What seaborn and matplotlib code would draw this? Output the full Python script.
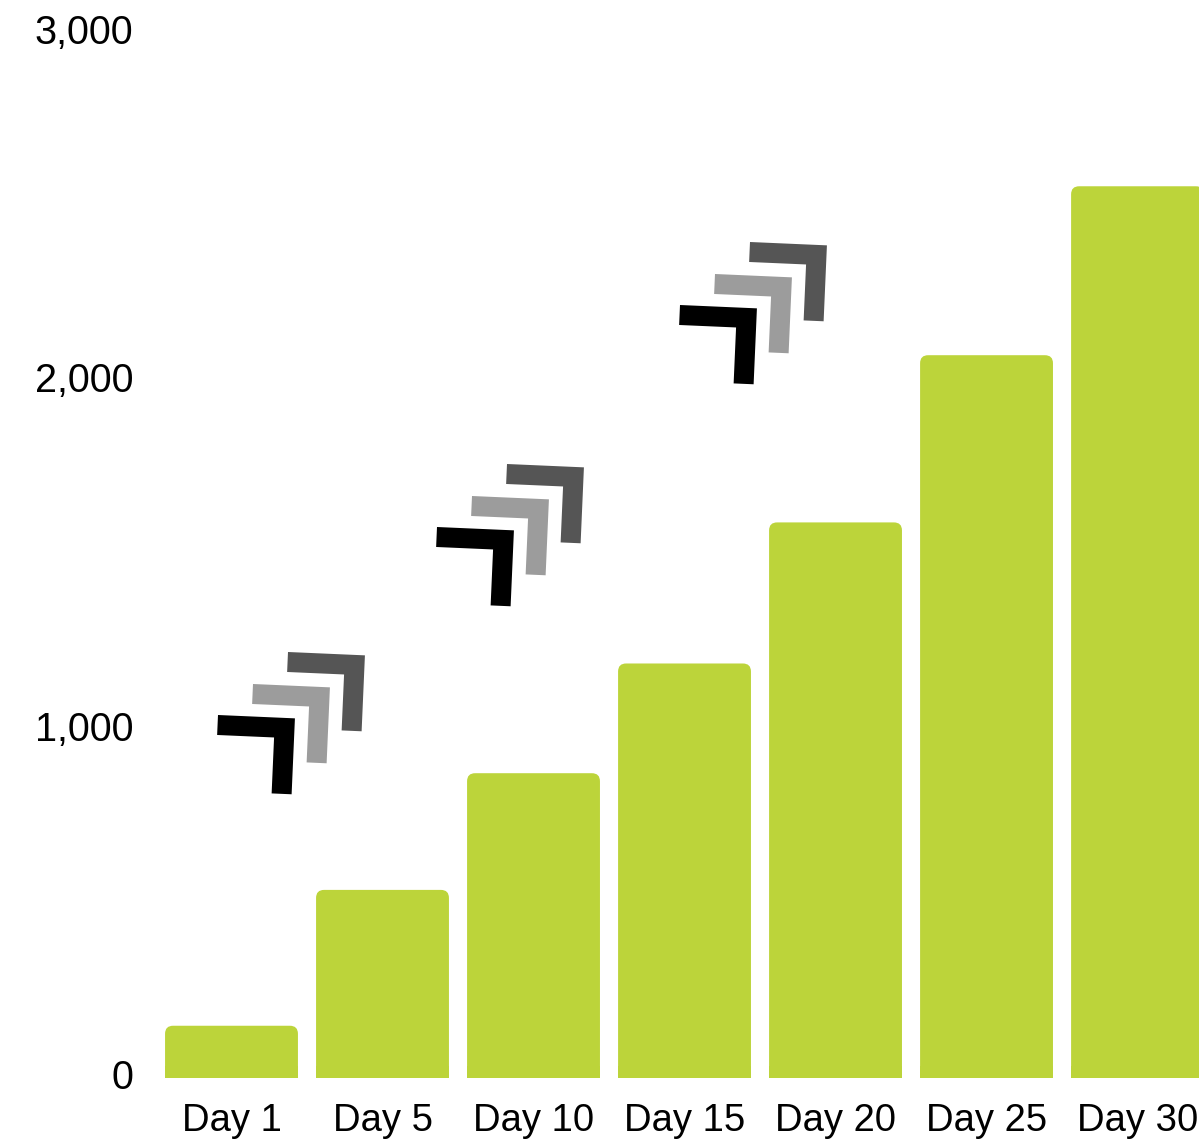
import numpy as np
import pandas as pd
import seaborn as sns
import matplotlib
matplotlib.use("Agg")
import matplotlib.pyplot as plt
import matplotlib.transforms as mtransforms
from matplotlib.patches import FancyBboxPatch, Rectangle, Polygon
from matplotlib.ticker import FuncFormatter

# ---- data ----
days = ["Day 1", "Day 5", "Day 10", "Day 15", "Day 20", "Day 25", "Day 30"]
values = [150, 540, 875, 1190, 1595, 2075, 2560]
y_ticks = [0, 1000, 2000, 3000]

BAR_COLOR = "#BCD43A"
W, H = 1199, 1141

sns.set_style("white")
plt.rcParams["font.family"] = ["Liberation Sans", "DejaVu Sans"]

fig = plt.figure(figsize=(W / 100, H / 100), dpi=100)
ax = fig.add_axes([150 / W, (H - 1078) / H, (W - 150) / W, (1078 - 33) / H])

df = pd.DataFrame({"day": days, "value": values})
sns.barplot(data=df, x="day", y="value", color=BAR_COLOR, width=0.88,
            saturation=1, ax=ax, zorder=2)

ax.set_xlim(-0.5397, 6.407)
ax.set_ylim(0, 3000)
ax.set_yticks(y_ticks)
ax.yaxis.set_major_formatter(FuncFormatter(lambda v, p: f"{int(v):,}"))
ax.set_xlabel("")
ax.set_ylabel("")
for s in ax.spines.values():
    s.set_visible(False)
ax.tick_params(axis="both", length=0, labelsize=27.5, colors="black")
ax.tick_params(axis="y", labelsize=28.5)
ax.tick_params(axis="x", pad=18)
ax.tick_params(axis="y", pad=12)
ax.grid(False)

# nudge y tick labels up a few pixels
offset = mtransforms.ScaledTranslation(0, 4 / 100, fig.dpi_scale_trans)
for lbl in ax.get_yticklabels():
    lbl.set_transform(lbl.get_transform() + offset)

# ---- rounded top corners for bars ----
fig.canvas.draw()
px_per_x = ax.transData.transform((1, 0))[0] - ax.transData.transform((0, 0))[0]
px_per_y = ax.transData.transform((0, 1))[1] - ax.transData.transform((0, 0))[1]
aspect = px_per_x / px_per_y
radius = 8 / px_per_x
for p in list(ax.patches):
    x0, y0 = p.get_x(), p.get_y()
    w, h = p.get_width(), p.get_height()
    p.remove()
    ax.add_patch(FancyBboxPatch((x0, y0), w, h,
                                boxstyle=f"round,pad=0,rounding_size={radius}",
                                mutation_aspect=aspect, fc=BAR_COLOR, ec="none",
                                zorder=2))
    ax.add_patch(Rectangle((x0, y0), w, min(h / 2, 12 / px_per_y),
                           fc=BAR_COLOR, ec="none", zorder=2))

# ---- decorative arrow icons (figure pixel coords) ----
def chevron(ox, oy, color, wdt=77, hgt=76, th=20, ang=2.5):
    pts = np.array([(0, 0), (wdt, 0), (wdt, hgt), (wdt - th, hgt),
                    (wdt - th, th), (0, th)], dtype=float)
    t = np.deg2rad(ang)
    xr = pts[:, 0] * np.cos(t) - pts[:, 1] * np.sin(t)
    yr = pts[:, 0] * np.sin(t) + pts[:, 1] * np.cos(t)
    fx = (ox + xr) / W
    fy = 1 - (oy + yr) / H
    fig.patches.append(Polygon(np.column_stack([fx, fy]), closed=True,
                               fc=color, ec="none", transform=fig.transFigure,
                               figure=fig, zorder=5))

def icon(ox, oy):
    chevron(ox + 70, oy - 63, "#555555")
    chevron(ox + 35, oy - 31, "#9C9C9C")
    chevron(ox, oy, "#000000")

for ox, oy in [(218, 715), (437, 527), (680, 305)]:
    icon(ox, oy)

fig.savefig("out.png", dpi=100, facecolor="white")
